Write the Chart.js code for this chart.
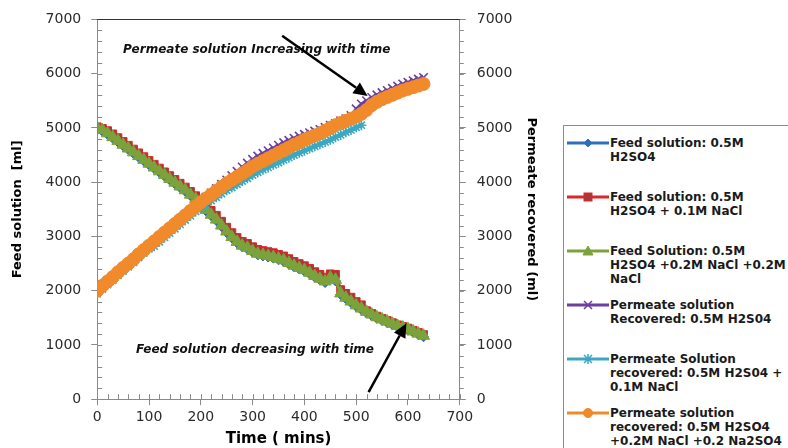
<!DOCTYPE html>
<html>
<head>
<meta charset="utf-8">
<script src="https://cdn.jsdelivr.net/npm/chart.js@4.4.1/dist/chart.umd.min.js"></script>
<style>
  html, body { margin: 0; padding: 0; background: #fff; overflow: hidden; }
  #wrap { position: relative; width: 788px; height: 448px; }
  #chartBox { position: absolute; left: 0; top: 0; }
  #legend {
    position: absolute; left: 563px; top: 125px; width: 240px; height: 340px;
    border: 1px solid #8c8c8c; box-sizing: border-box;
    font: bold 12px "DejaVu Sans", sans-serif; color: #1a1a1a;
  }
  .item { position: absolute; left: 0; width: 230px; }
  .item svg { position: absolute; left: 3px; top: 0; }
  .item .txt { position: absolute; left: 46px; top: 0; line-height: 14px; white-space: nowrap; }
</style>
</head>
<body>
<div id="wrap">
  <canvas id="chartBox" width="560" height="448"></canvas>
  <div id="legend"></div>
</div>
<script>
// time axis (minutes), one reading every 10 min
const TIME_MIN = [0, 10, 20, 30, 40, 50, 60, 70, 80, 90,
  100, 110, 120, 130, 140, 150, 160, 170, 180, 190,
  200, 210, 220, 230, 240, 250, 260, 270, 280, 290,
  300, 310, 320, 330, 340, 350, 360, 370, 380, 390,
  400, 410, 420, 430, 440, 450, 460, 470, 480, 490,
  500, 510, 520, 530, 540, 550, 560, 570, 580, 590,
  600, 610, 620, 630];

// feed solution volumes (ml), left axis
const FEED_H2SO4 = [4980, 4940, 4880, 4810, 4740, 4670, 4600, 4530, 4460, 4390,
  4320, 4250, 4180, 4110, 4040, 3970, 3900, 3830, 3750, 3670,
  3590, 3470, 3380, 3290, 3180, 3070, 2970, 2880, 2810, 2770,
  2710, 2660, 2640, 2620, 2600, 2570, 2540, 2490, 2440, 2400,
  2360, 2310, 2250, 2200, 2150, 2220, 2180, 1930, 1850, 1780,
  1710, 1650, 1590, 1540, 1490, 1450, 1410, 1370, 1330, 1300,
  1270, 1230, 1190, 1150];
const FEED_NACL = [5020, 4990, 4950, 4890, 4820, 4750, 4680, 4610, 4540, 4470,
  4400, 4330, 4260, 4190, 4120, 4050, 3980, 3910, 3830, 3750,
  3670, 3570, 3480, 3390, 3280, 3170, 3070, 2980, 2910, 2870,
  2810, 2760, 2740, 2720, 2700, 2670, 2640, 2590, 2540, 2500,
  2460, 2410, 2350, 2300, 2250, 2310, 2300, 2020, 1950, 1880,
  1800, 1740, 1630, 1580, 1530, 1490, 1450, 1410, 1370, 1340,
  1310, 1270, 1230, 1190];
const FEED_MIX = [5000, 4960, 4900, 4830, 4760, 4690, 4620, 4550, 4480, 4410,
  4340, 4270, 4200, 4130, 4060, 3990, 3920, 3850, 3770, 3690,
  3610, 3490, 3400, 3310, 3200, 3090, 2990, 2900, 2830, 2790,
  2730, 2680, 2660, 2640, 2620, 2590, 2560, 2510, 2460, 2420,
  2380, 2330, 2270, 2220, 2170, 2240, 2200, 1950, 1870, 1800,
  1730, 1670, 1610, 1560, 1510, 1470, 1430, 1390, 1350, 1320,
  1290, 1250, 1210, 1170];

// permeate recovered (ml), right axis
const PERM_H2SO4 = [1990, 2080, 2160, 2240, 2330, 2410, 2490, 2570, 2660, 2740,
  2820, 2900, 2980, 3060, 3140, 3220, 3300, 3380, 3460, 3540,
  3630, 3720, 3800, 3880, 3960, 4040, 4120, 4200, 4280, 4350,
  4420, 4480, 4530, 4580, 4630, 4680, 4730, 4770, 4810, 4850,
  4880, 4910, 4940, 4970, 5010, 5050, 5080, 5130, 5170, 5230,
  5350, 5440, 5500, 5560, 5610, 5650, 5690, 5730, 5770, 5810,
  5840, 5870, 5900, 5930];
const PERM_NACL = [1940, 2030, 2110, 2190, 2280, 2360, 2440, 2520, 2610, 2690,
  2770, 2820, 2900, 2980, 3060, 3140, 3220, 3300, 3380, 3460,
  3530, 3590, 3660, 3720, 3790, 3850, 3900, 3960, 4020, 4070,
  4130, 4180, 4230, 4270, 4320, 4360, 4410, 4450, 4500, 4540,
  4580, 4620, 4660, 4700, 4740, 4780, 4830, 4870, 4920, 4960,
  5010, 5050];
const PERM_MIX = [2000, 2090, 2170, 2250, 2340, 2420, 2500, 2580, 2670, 2750,
  2830, 2910, 2990, 3070, 3150, 3230, 3310, 3390, 3470, 3550,
  3630, 3700, 3770, 3840, 3910, 3980, 4040, 4100, 4160, 4220,
  4290, 4340, 4390, 4440, 4490, 4540, 4590, 4640, 4690, 4730,
  4780, 4820, 4860, 4900, 4950, 5000, 5050, 5090, 5130, 5170,
  5210, 5260, 5330, 5420, 5480, 5530, 5570, 5610, 5650, 5690,
  5720, 5750, 5780, 5810];

const LEGEND_LINES = [
  ['Feed solution: 0.5M', 'H2SO4'],
  ['Feed solution: 0.5M', 'H2SO4 + 0.1M NaCl'],
  ['Feed Solution: 0.5M', 'H2SO4 +0.2M NaCl +0.2M', 'NaCl'],
  ['Permeate solution', 'Recovered: 0.5M H2S04'],
  ['Permeate Solution', 'recovered: 0.5M H2S04 +', '0.1M NaCl'],
  ['Permeate solution', 'recovered: 0.5M H2SO4', '+0.2M NaCl +0.2 Na2SO4']
];

const Y_TICKS = [0, 7000, 1000];   // min, max, step
const X_TICKS = [0, 700, 100];

const NOTE_TOP = 'Permeate solution Increasing with time';
const NOTE_BOTTOM = 'Feed solution decreasing with time';

// series styling (Excel-like markers)
const styles = [
  { color: '#2c6fbe', fill: '#2c6fbe', shape: 'rectRot', r: 5, axis: 'yL' },
  { color: '#d8282c', fill: '#a83838', shape: 'rect', r: 5.5, axis: 'yL' },
  { color: '#7ca23c', fill: '#7ca23c', shape: 'triangle', r: 7, axis: 'yL' },
  { color: '#6b3fa0', fill: '#6b3fa0', shape: 'crossRot', r: 6, axis: 'yR' },
  { color: '#3aa8c1', fill: '#3aa8c1', shape: 'star', r: 5, axis: 'yR' },
  { color: '#f08a2b', fill: '#f08a2b', shape: 'circle', r: 6.5, axis: 'yR' }
];
const seriesValues = [FEED_H2SO4, FEED_NACL, FEED_MIX, PERM_H2SO4, PERM_NACL, PERM_MIX];

const datasets = seriesValues.map((vals, i) => {
  const s = styles[i];
  return {
    label: LEGEND_LINES[i].join(' '),
    data: vals.map((v, k) => ({ x: TIME_MIN[k], y: v })),
    yAxisID: s.axis,
    borderColor: s.color,
    backgroundColor: s.fill,
    borderWidth: 3,
    pointStyle: s.shape,
    pointRadius: s.r,
    pointBorderColor: s.color,
    pointBackgroundColor: s.fill,
    pointBorderWidth: (s.shape === 'crossRot' || s.shape === 'star') ? 1.6 : 1,
    tension: 0,
    fill: false,
    order: 6 - i  // later series painted on top, like Excel
  };
});

function drawArrow(ctx, x1, y1, x2, y2) {
  const a = Math.atan2(y2 - y1, x2 - x1);
  const head = 14, wing = 6.5;
  const bx = x2 - head * Math.cos(a), by = y2 - head * Math.sin(a);
  ctx.beginPath();
  ctx.moveTo(x1, y1);
  ctx.lineTo(bx, by);
  ctx.stroke();
  ctx.beginPath();
  ctx.moveTo(x2, y2);
  ctx.lineTo(bx + wing * Math.sin(a), by - wing * Math.cos(a));
  ctx.lineTo(bx - wing * Math.sin(a), by + wing * Math.cos(a));
  ctx.closePath();
  ctx.fill();
}

// arrows in data units: [t1, v1, t2, v2]
const arrows = [[357, 6700, 522, 5590], [524, 130, 597, 1400]];

const decor = {
  id: 'decor',
  beforeDatasetsDraw(chart) {
    const ctx = chart.ctx;
    const { left, right, top, bottom } = chart.chartArea;
    const sx = chart.scales.x, yl = chart.scales.yL, yr = chart.scales.yR;
    ctx.save();
    ctx.strokeStyle = '#8a8a8a';
    ctx.lineWidth = 1;
    ctx.beginPath();
    // minor ticks
    for (let v = Y_TICKS[0]; v <= Y_TICKS[1]; v += Y_TICKS[2] / 5) {
      const py = Math.round(yl.getPixelForValue(v)) + 0.5;
      ctx.moveTo(left, py); ctx.lineTo(left + 5, py);
      const pr = Math.round(yr.getPixelForValue(v)) + 0.5;
      ctx.moveTo(right, pr); ctx.lineTo(right + 4, pr);
    }
    for (let t = X_TICKS[0]; t <= X_TICKS[1]; t += X_TICKS[2] / 5) {
      const px = Math.round(sx.getPixelForValue(t)) + 0.5;
      ctx.moveTo(px, bottom); ctx.lineTo(px, bottom - 5);
    }
    ctx.stroke();
    // top frame line
    ctx.strokeStyle = '#333';
    ctx.beginPath();
    ctx.moveTo(left, Math.round(top) + 0.5);
    ctx.lineTo(right, Math.round(top) + 0.5);
    ctx.stroke();
    ctx.restore();
  },
  afterDatasetsDraw(chart) {
    const ctx = chart.ctx;
    const sx = chart.scales.x, yl = chart.scales.yL;
    ctx.save();
    ctx.fillStyle = '#111';
    ctx.font = 'italic bold 12px "DejaVu Sans"';
    ctx.textBaseline = 'middle';
    ctx.fillText(NOTE_TOP, sx.getPixelForValue(50), yl.getPixelForValue(6430));
    ctx.fillText(NOTE_BOTTOM, sx.getPixelForValue(75), yl.getPixelForValue(900));
    ctx.strokeStyle = '#000';
    ctx.fillStyle = '#000';
    ctx.lineWidth = 2.5;
    arrows.forEach(a => {
      drawArrow(ctx, sx.getPixelForValue(a[0]), yl.getPixelForValue(a[1]),
        sx.getPixelForValue(a[2]), yl.getPixelForValue(a[3]));
    });
    ctx.restore();
  }
};

const tickFont = { family: 'DejaVu Sans', size: 14 };
const titleFont = { family: 'DejaVu Sans', size: 13, weight: 'bold' };

function yScale(pos, title, pad, titlePad) {
  return {
    type: 'linear',
    position: pos,
    min: Y_TICKS[0], max: Y_TICKS[1],
    ticks: { stepSize: Y_TICKS[2], padding: pad, color: '#2b2b2b', font: tickFont, callback: v => String(v) },
    grid: { drawOnChartArea: false, tickLength: 6, color: '#8a8a8a' },
    border: { color: '#8a8a8a' },
    title: { display: true, text: title, color: '#000', font: titleFont, padding: titlePad }
  };
}

new Chart(document.getElementById('chartBox').getContext('2d'), {
  type: 'line',
  data: { datasets: datasets },
  options: {
    responsive: false,
    animation: false,
    devicePixelRatio: 1,
    layout: { padding: { left: 6, top: 17, right: 17, bottom: 0 } },
    plugins: { legend: { display: false }, tooltip: { enabled: false } },
    scales: {
      x: {
        type: 'linear',
        min: X_TICKS[0], max: X_TICKS[1],
        ticks: { stepSize: X_TICKS[2], padding: 4, color: '#2b2b2b', font: tickFont, callback: v => String(v) },
        grid: { drawOnChartArea: false, tickLength: 6, color: '#8a8a8a' },
        border: { color: '#8a8a8a' },
        title: { display: true, text: 'Time ( mins)', color: '#000',
          font: { family: 'DejaVu Sans', size: 15, weight: 'bold' }, padding: { top: 0, bottom: 0 } }
      },
      yL: yScale('left', 'Feed solution  [ml]', 10, { top: 4, bottom: 10 }),
      yR: yScale('right', 'Permeate recovered (ml)', 11, { top: 4, bottom: 0 })
    }
  },
  plugins: [decor]
});

// legend with wrapped labels, built from the same series list
function markerSvg(s) {
  const c = 21, m = 7;
  const st = `stroke="${s.color}" stroke-width="1"`;
  switch (s.shape) {
    case 'rectRot':
      return `<polygon points="${c},${m - 4} ${c + 4},${m} ${c},${m + 4} ${c - 4},${m}" fill="${s.fill}" ${st}/>`;
    case 'rect':
      return `<rect x="${c - 4}" y="${m - 4}" width="8" height="8" fill="${s.fill}" ${st}/>`;
    case 'triangle':
      return `<polygon points="${c},${m - 5} ${c + 5},${m + 4} ${c - 5},${m + 4}" fill="${s.fill}" ${st}/>`;
    case 'crossRot':
      return `<path d="M${c - 4} ${m - 4}L${c + 4} ${m + 4}M${c + 4} ${m - 4}L${c - 4} ${m + 4}" stroke="${s.color}" stroke-width="1.5"/>`;
    case 'star':
      return `<path d="M${c - 4} ${m - 4}L${c + 4} ${m + 4}M${c + 4} ${m - 4}L${c - 4} ${m + 4}M${c} ${m - 5}L${c} ${m + 5}" stroke="${s.color}" stroke-width="1.5"/>`;
    default:
      return `<circle cx="${c}" cy="${m}" r="4.5" fill="${s.fill}" ${st}/>`;
  }
}

const legendEl = document.getElementById('legend');
LEGEND_LINES.forEach((lines, i) => {
  const s = styles[i];
  const item = document.createElement('div');
  item.className = 'item';
  item.style.top = (10 + 54 * i) + 'px';
  item.innerHTML =
    `<svg width="42" height="14"><line x1="0" y1="7" x2="42" y2="7" stroke="${s.color}" stroke-width="3"/>${markerSvg(s)}</svg>` +
    `<div class="txt">${lines.join('<br>')}</div>`;
  legendEl.appendChild(item);
});
</script>
</body>
</html>
